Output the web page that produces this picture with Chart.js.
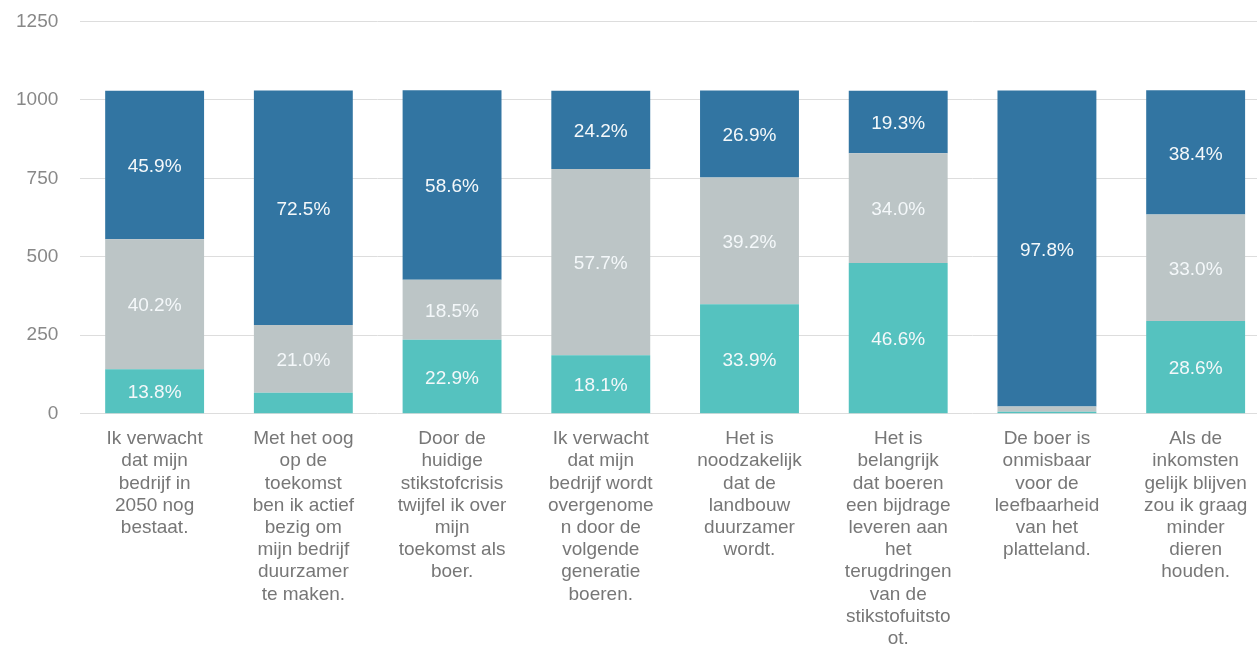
<!DOCTYPE html>
<html>
<head>
<meta charset="utf-8">
<script src="https://cdn.jsdelivr.net/npm/chart.js@4"></script>
<style>
  html, body { margin: 0; padding: 0; background: #fff; overflow: hidden; }
  .chart-container { width: 1270px; height: 668px; margin-top: -12px; }
</style>
</head>
<body>
<div class="chart-container">
  <canvas id="chart"></canvas>
</div>
<script>
const categories = [
  ['Ik verwacht', 'dat mijn', 'bedrijf in', '2050 nog', 'bestaat.'],
  ['Met het oog', 'op de', 'toekomst', 'ben ik actief', 'bezig om', 'mijn bedrijf', 'duurzamer', 'te maken.'],
  ['Door de', 'huidige', 'stikstofcrisis', 'twijfel ik over', 'mijn', 'toekomst als', 'boer.'],
  ['Ik verwacht', 'dat mijn', 'bedrijf wordt', 'overgenome', 'n door de', 'volgende', 'generatie', 'boeren.'],
  ['Het is', 'noodzakelijk', 'dat de', 'landbouw', 'duurzamer', 'wordt.'],
  ['Het is', 'belangrijk', 'dat boeren', 'een bijdrage', 'leveren aan', 'het', 'terugdringen', 'van de', 'stikstofuitsto', 'ot.'],
  ['De boer is', 'onmisbaar', 'voor de', 'leefbaarheid', 'van het', 'platteland.'],
  ['Als de', 'inkomsten', 'gelijk blijven', 'zou ik graag', 'minder', 'dieren', 'houden.']
];

// counts per answer (bottom to top)
const oneens   = [142, 67, 236, 186, 349, 480, 6, 295];
const neutraal = [414, 216, 191, 594, 404, 350, 17, 340];
const eens     = [473, 747, 604, 249, 277, 199, 1007, 396];

// percentage labels as shown in the bars
const oneensPct   = ['13.8%', null, '22.9%', '18.1%', '33.9%', '46.6%', null, '28.6%'];
const neutraalPct = ['40.2%', '21.0%', '18.5%', '57.7%', '39.2%', '34.0%', null, '33.0%'];
const eensPct     = ['45.9%', '72.5%', '58.6%', '24.2%', '26.9%', '19.3%', '97.8%', '38.4%'];

const yTicks = [0, 250, 500, 750, 1000, 1250];

const FONT = '"Liberation Sans", Arial, sans-serif';

const pctLabels = {
  id: 'pctLabels',
  afterDatasetsDraw(chart) {
    const ctx = chart.ctx;
    ctx.save();
    ctx.fillStyle = '#f4f8fa';
    ctx.font = '19px ' + FONT;
    ctx.textAlign = 'center';
    ctx.textBaseline = 'middle';
    chart.data.datasets.forEach((ds, i) => {
      const meta = chart.getDatasetMeta(i);
      meta.data.forEach((bar, j) => {
        const txt = ds.pctLabels[j];
        if (!txt) return;
        ctx.fillText(txt, bar.x, (bar.y + bar.base) / 2 + 2);
      });
    });
    ctx.restore();
  }
};

new Chart(document.getElementById('chart').getContext('2d'), {
  type: 'bar',
  data: {
    labels: categories,
    datasets: [
      { label: 'Oneens', data: oneens, pctLabels: oneensPct, backgroundColor: '#55c2bf' },
      { label: 'Neutraal', data: neutraal, pctLabels: neutraalPct, backgroundColor: '#bcc5c6' },
      { label: 'Eens', data: eens, pctLabels: eensPct, backgroundColor: '#3275a2' }
    ]
  },
  plugins: [pctLabels],
  options: {
    responsive: true,
    maintainAspectRatio: false,
    animation: false,
    layout: { padding: { left: -6, top: 0, right: 0, bottom: 0 } },
    datasets: { bar: { categoryPercentage: 1, barPercentage: 0.665 } },
    plugins: { legend: { display: false }, tooltip: { enabled: false } },
    scales: {
      x: {
        stacked: true,
        grid: { display: false },
        border: { display: false },
        ticks: {
          color: '#777777',
          padding: 6,
          maxRotation: 0,
          autoSkip: false,
          font: { family: FONT, size: 19, lineHeight: 1.17 }
        }
      },
      y: {
        stacked: true,
        min: 0,
        max: 1250,
        afterBuildTicks(axis) { axis.ticks = yTicks.map(v => ({ value: v })); },
        grid: { color: '#dddddd', drawTicks: false },
        border: { display: false },
        ticks: {
          color: '#888888',
          padding: 22,
          callback: v => String(v),
          font: { family: FONT, size: 19 }
        }
      }
    }
  }
});
</script>
</body>
</html>
